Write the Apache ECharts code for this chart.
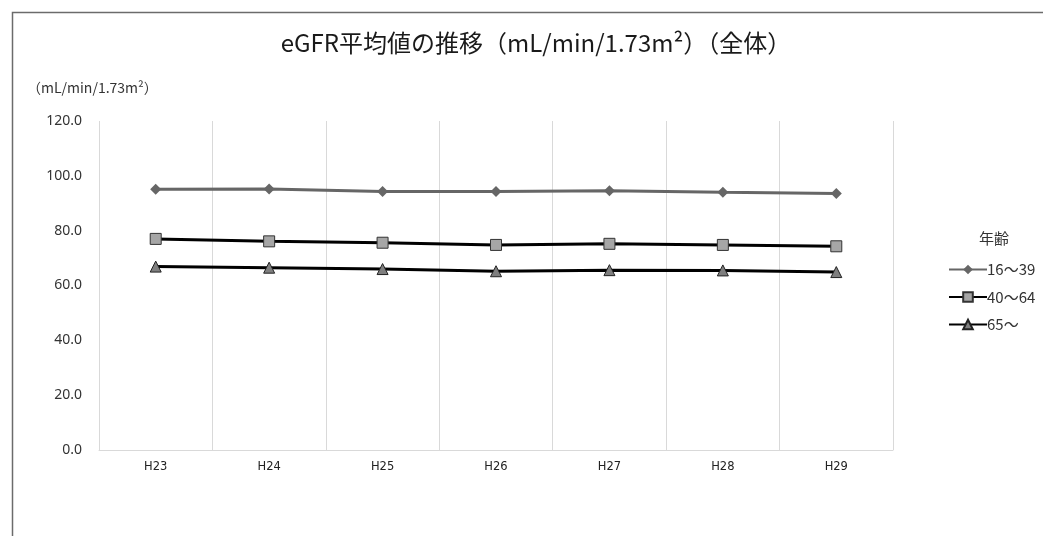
<!DOCTYPE html>
<html><head><meta charset="utf-8">
<script src="https://cdn.jsdelivr.net/npm/echarts@6/dist/echarts.min.js"></script>
<style>html,body{margin:0;padding:0;background:#fff}#c{width:1043px;height:536px}</style>
</head><body><div id="c"></div>
<script>
const categories = ['H23','H24','H25','H26','H27','H28','H29'];
const seriesNames = ['16～39','40～64','65～'];
const age16to39 = [95.1, 95.2, 94.3, 94.3, 94.6, 94.0, 93.6];
const age40to64 = [77.0, 76.1, 75.6, 74.8, 75.2, 74.8, 74.3];
const age65plus = [66.9, 66.5, 66.0, 65.2, 65.6, 65.5, 64.9];
const yTicks = [0, 20, 40, 60, 80, 100, 120];

const chart = echarts.init(document.getElementById('c'), null, {renderer:'canvas'});
const txt = '#333333';
const jp = '"Noto Sans CJK JP",sans-serif';
chart.setOption({
  backgroundColor:'#fff',
  animation:false,
  graphic:[
    {type:'rect', left:10, top:10, shape:{width:1100, height:600}, style:{fill:'none', stroke:'#6b6b6b', lineWidth:1.5}, silent:true},
    {type:'text', left:27, top:81, style:{text:'（mL/min/1.73m²）', font:'14px "Noto Sans CJK JP", sans-serif', fill:txt}}
  ],
  title:[
    {text:'eGFR平均値の推移（mL/min/1.73m²）（全体）', left:531, top:26, textAlign:'center',
     textStyle:{fontFamily:jp, fontSize:24, fontWeight:'normal', color:'#1a1a1a'}},
    {text:'年齢', left:974, top:226, textStyle:{fontFamily:jp, fontSize:15, fontWeight:'normal', color:txt}}
  ],
  legend:{
    orient:'vertical', left:943, top:257, itemWidth:38, itemHeight:12, itemGap:12.5,
    textStyle:{fontFamily:jp, fontSize:15, color:txt, padding:[0,0,0,-5]},
    data:seriesNames
  },
  grid:{left:99, right:150, top:121, bottom:86, containLabel:false},
  xAxis:{
    type:'category', data:categories, boundaryGap:true,
    axisLine:{lineStyle:{color:'#d9d9d9', width:1}},
    axisTick:{show:false},
    splitLine:{show:true, lineStyle:{color:'#d9d9d9', width:1}},
    axisLabel:{fontFamily:'"DejaVu Sans",sans-serif', fontSize:11.5, color:'#222', margin:11}
  },
  yAxis:{
    type:'value', min:yTicks[0], max:yTicks[yTicks.length-1], interval:20,
    axisLine:{show:false}, axisTick:{show:false}, splitLine:{show:false},
    axisLabel:{fontFamily:'"Noto Sans",sans-serif', fontSize:14, color:txt, margin:17, formatter:v=>v.toFixed(1)}
  },
  series:[
    {name:seriesNames[0], type:'line', data:age16to39, symbol:'diamond', symbolSize:11,
     lineStyle:{color:'#666666', width:3}, itemStyle:{color:'#666666', borderColor:'#666666', borderWidth:0}},
    {name:seriesNames[1], type:'line', data:age40to64, symbol:'rect', symbolSize:11,
     lineStyle:{color:'#000', width:3}, itemStyle:{color:'#a6a6a6', borderColor:'#333', borderWidth:1}},
    {name:seriesNames[2], type:'line', data:age65plus, symbol:'triangle', symbolSize:11,
     lineStyle:{color:'#000', width:3}, itemStyle:{color:'#7f7f7f', borderColor:'#222', borderWidth:1}}
  ]
});
</script></body></html>
